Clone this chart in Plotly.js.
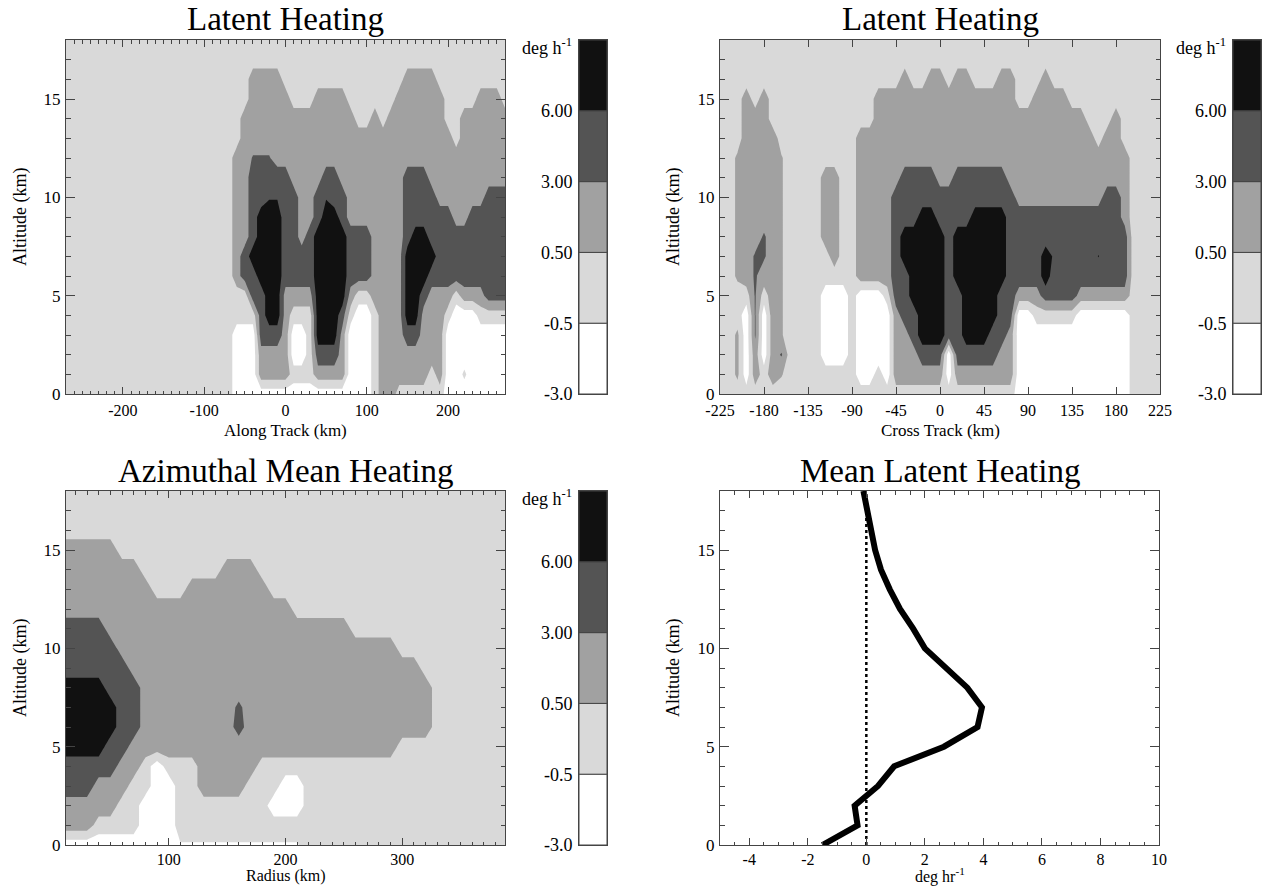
<!DOCTYPE html>
<html>
<head>
<meta charset="utf-8">
<script src="https://cdn.plot.ly/plotly-3.0.1.min.js"></script>
<style>html,body{margin:0;padding:0;background:#fff;}#chart{width:1263px;height:886px;}</style>
</head>
<body>
<div id="chart"></div>
<script>
// ================= DATA =================
// contour levels (deg h^-1) and their colours
const levelValues = [-3.0, -0.5, 0.5, 3.0, 6.0];
const levelLabels = ['-3.0', '-0.5', '0.50', '3.00', '6.00'];
const bandColors  = ['#ffffff', '#d9d9d9', '#a1a1a1', '#545454', '#111111'];

const altitudeKm   = [0,1,2,3,4,5,6,7,8,9,10,11,12,13,14,15,16,17,18];
const altTicks     = [0,5,10,15];
const altTickText  = ['0','5','10','15'];

// ---- Panel 1 : along track (one altitude profile per x position) ----
const alongTrackKm = [-270,-260,-250,-240,-230,-220,-210,-200,-190,-180,-170,-160,-150,-140,-130,-120,-110,-100,-90,-80,-70,
  -60,-50,-40,-30,-20,-10,0,10,20,30,40,50,60,70,80,90,100,110,120,130,140,150,160,170,180,190,200,210,220,230,240,250,260,270];
const alongTicks    = [-200,-100,0,100,200];
const alongTickText = ['-200','-100','0','100','200'];
const alongTrackHeating = [
  [0,0,0,0,0, 0,0,0,0,0, 0,0,0,0,0, 0,0,0,0], // -270
  [0,0,0,0,0, 0,0,0,0,0, 0,0,0,0,0, 0,0,0,0], // -260
  [0,0,0,0,0, 0,0,0,0,0, 0,0,0,0,0, 0,0,0,0], // -250
  [0,0,0,0,0, 0,0,0,0,0, 0,0,0,0,0, 0,0,0,0], // -240
  [0,0,0,0,0, 0,0,0,0,0, 0,0,0,0,0, 0,0,0,0], // -230
  [0,0,0,0,0, 0,0,0,0,0, 0,0,0,0,0, 0,0,0,0], // -220
  [0,0,0,0,0, 0,0,0,0,0, 0,0,0,0,0, 0,0,0,0], // -210
  [0,0,0,0,0, 0,0,0,0,0, 0,0,0,0,0, 0,0,0,0], // -200
  [0,0,0,0,0, 0,0,0,0,0, 0,0,0,0,0, 0,0,0,0], // -190
  [0,0,0,0,0, 0,0,0,0,0, 0,0,0,0,0, 0,0,0,0], // -180
  [0,0,0,0,0, 0,0,0,0,0, 0,0,0,0,0, 0,0,0,0], // -170
  [0,0,0,0,0, 0,0,0,0,0, 0,0,0,0,0, 0,0,0,0], // -160
  [0,0,0,0,0, 0,0,0,0,0, 0,0,0,0,0, 0,0,0,0], // -150
  [0,0,0,0,0, 0,0,0,0,0, 0,0,0,0,0, 0,0,0,0], // -140
  [0,0,0,0,0, 0,0,0,0,0, 0,0,0,0,0, 0,0,0,0], // -130
  [0,0,0,0,0, 0,0,0,0,0, 0,0,0,0,0, 0,0,0,0], // -120
  [0,0,0,0,0, 0,0,0,0,0, 0,0,0,0,0, 0,0,0,0], // -110
  [0,0,0,0,0, 0,0,0,0,0, 0,0,0,0,0, 0,0,0,0], // -100
  [0,0,0,0,0, 0,0,0,0,0, 0,0,0,0,0, 0,0,0,0], // -90
  [0,0,0,0,0, 0,0,0,0,0, 0,0,0,0,0, 0,0,0,0], // -80
  [0,0,0,0,0, 0,0,0,0,0, 0,0,0,0,0, 0,0,0,0], // -70
  [-2,-2,-2,-2,0, 0,2,2,2,2, 2,2,2,0,0, 0,0,0,0], // -60
  [-2,-2,-2,-2,0, 0,4.5,4.5,2,2, 2,2,2,2,2, 0,0,0,0], // -50
  [-2,-2,-2,-2,0, 4.5,4.5,9,4.5,4.5, 4.5,4.5,3.2,2,2, 2,2,0,0], // -40
  [-2,2,2,4.5,4.5, 4.5,9,9,9,9, 4.5,4.5,3.2,2,2, 2,2,0,0], // -30
  [-2,2,2,4.5,9, 9,9,9,9,9, 5.8,4.5,3.2,2,2, 2,2,0,0], // -20
  [-2,2,2,4.5,9, 9,9,9,9,9, 5.8,4.5,2,2,2, 2,2,0,0], // -10
  [-2,2,2,2,2, 2,4.5,4.5,4.5,4.5, 4.5,4.5,2,2,2, 2,0,0,0], // 0
  [-2,0,-2,-2,0, 2,4.5,4.5,4.5,4.5, 4.5,2,2,2,2, 0,0,0,0], // 10
  [-2,0,-2,-2,0, 2,4.5,4.5,2,2, 2,2,2,2,2, 0,0,0,0], // 20
  [-2,0,0,0,0, 2,4.5,4.5,4.5,2, 2,2,2,2,2, 0,0,0,0], // 30
  [-2,2,4.5,9,9, 9,9,9,9,4.5, 4.5,2,2,2,2, 2,0,0,0], // 40
  [-2,2,4.5,9,9, 9,9,9,9,9, 5.8,4.5,2,2,2, 2,0,0,0], // 50
  [-2,2,4.5,9,9, 9,9,9,9,9, 4.5,4.5,2,2,2, 2,0,0,0], // 60
  [-2,2,2,2,4.5, 9,9,9,9,4.5, 4.5,2,2,2,2, 2,0,0,0], // 70
  [-2,-2,-2,-2,0, 2,4.5,4.5,4.5,2, 2,2,2,2,2, 0,0,0,0], // 80
  [-2,-2,-2,-2,-2, 0,4.5,4.5,4.5,2, 2,2,2,2,0, 0,0,0,0], // 90
  [-2,-2,-2,-2,-2, 0,4.5,4.5,4.5,2, 2,2,2,2,0, 0,0,0,0], // 100
  [0,0,0,0,0, 2,2,2,2,2, 2,2,2,2,2, 0,0,0,0], // 110
  [2,2,2,2,2, 2,2,2,2,2, 2,2,2,2,0, 0,0,0,0], // 120
  [2,2,2,2,2, 2,2,2,2,2, 2,2,2,2,2, 0,0,0,0], // 130
  [0,2,2,2,2, 2,2,2,2,2, 2,2,2,2,2, 2,0,0,0], // 140
  [0,2,2,4.5,9, 9,9,9,4.5,4.5, 4.5,4.5,2,2,2, 2,2,0,0], // 150
  [0,2,2,4.5,9, 9,9,9,9,4.5, 4.5,4.5,2,2,2, 2,2,0,0], // 160
  [0,2,2,2,2, 4.5,9,9,9,4.5, 4.5,4.5,2,2,2, 2,2,0,0], // 170
  [0,0,2,2,2, 2,4.5,9,4.5,4.5, 4.5,2,2,2,2, 2,2,0,0], // 180
  [0,2,2,2,2, 2,4.5,4.5,4.5,4.5, 2,2,2,2,2, 2,0,0,0], // 190
  [-2,-2,-2,-2,0, 2,4.5,4.5,4.5,4.5, 2,2,2,2,0, 0,0,0,0], // 200
  [-2,-2,-2,-2,-2, 0,4.5,4.5,4.5,2, 2,2,2,0,0, 0,0,0,0], // 210
  [-2,-0.3,-2,-2,-2, 2,4.5,4.5,4.5,2, 2,2,2,2,2, 0,0,0,0], // 220
  [-2,-2,-2,-2,-2, 2,4.5,4.5,4.5,4.5, 2,2,2,2,2, 0,0,0,0], // 230
  [-2,-2,-2,-2,0, 2,4.5,4.5,4.5,4.5, 2,2,2,2,2, 2,0,0,0], // 240
  [-2,-2,-2,-2,0, 4.5,4.5,4.5,4.5,4.5, 4.5,2,2,2,2, 2,0,0,0], // 250
  [-2,-2,-2,-2,0, 4.5,4.5,4.5,4.5,4.5, 4.5,2,2,2,2, 2,0,0,0], // 260
  [-2,-2,-2,-2,0, 4.5,4.5,4.5,4.5,4.5, 4.5,2,2,2,2, 0,0,0,0]  // 270
];

// ---- Panel 2 : cross track ----
const crossTrackKm = [-225,-216,-207,-198,-189,-180,-171,-162,-153,-144,-135,-126,-117,-108,-99,-90,-81,-72,-63,-54,
  -45,-36,-27,-18,-9,0,9,18,27,36,45,54,63,72,81,90,99,108,117,126,135,144,153,162,171,180,189,198,207,216,225];
const crossTicks    = [-225,-180,-135,-90,-45,0,45,90,135,180,225];
const crossTickText = ['-225','-180','-135','-90','-45','0','45','90','135','180','225'];
const crossTrackHeating = [
  [0,0,0,0,0, 0,0,0,0,0, 0,0,0,0,0, 0,0,0,0], // -225
  [0,0,0,0,0, 0,0,0,0,0, 0,0,0,0,0, 0,0,0,0], // -216
  [0,1,1,1,0, 0,1,1,1,1, 1,1,1,0,0, 0,0,0,0], // -207
  [0,-2,-2,-2,-2, 0,2,2,2,2, 2,2,2,2,2, 2,0,0,0], // -198
  [0,2,2,3.3,3.3, 3.3,3.3,3.3,2,2, 2,2,2,2,2, 0,0,0,0], // -189
  [0,0,-2,-2,-2, 0,2,3.3,3.3,2, 2,2,2,2,2, 2,0,0,0], // -180
  [0,2,2,2,2, 2,2,2,2,2, 2,2,2,2,0, 0,0,0,0], // -171
  [0,0.7,3.3,0.7,0.7, 0.7,0.7,0.7,0.7,0.7, 0.7,0.7,0.7,0,0, 0,0,0,0], // -162
  [0,0,0,0,0, 0,0,0,0,0, 0,0,0,0,0, 0,0,0,0], // -153
  [0,0,0,0,0, 0,0,0,0,0, 0,0,0,0,0, 0,0,0,0], // -144
  [0,0,0,0,0, 0,0,0,0,0, 0,0,0,0,0, 0,0,0,0], // -135
  [0,0,0,0,0, 0,0,0,0,0, 0,0,0,0,0, 0,0,0,0], // -126
  [0,0,-2,-2,-2, -2,0,0,2,2, 2,2,0,0,0, 0,0,0,0], // -117
  [0,0,-2,-2,-2, -2,0,2,2,2, 2,2,0,0,0, 0,0,0,0], // -108
  [0,0,-2,-2,-2, -2,0,0,0,0, 0,0,0,0,0, 0,0,0,0], // -99
  [0,0,0,0,0, 0,0,0,0,0, 0,0,0,0,0, 0,0,0,0], // -90
  [0,-2,-2,-2,-2, -2,2,2,2,2, 2,2,2,2,0, 0,0,0,0], // -81
  [0,-2,-2,-2,-2, -2,2,2,2,2, 2,2,2,2,0, 0,0,0,0], // -72
  [0,0,-2,-2,-2, -2,2,2,2,2, 2,2,2,2,2, 2,0,0,0], // -63
  [0,-2,-2,-2,-2, 0,2,2,2,2, 2,2,2,2,2, 2,0,0,0], // -54
  [0,2,2,2,2, 4.5,4.5,4.5,4.5,4.5, 4.5,2,2,2,2, 2,0,0,0], // -45
  [0,2,2,2,4.5, 4.5,4.5,9,9,4.5, 4.5,4.5,2,2,2, 2,2,0,0], // -36
  [0,2,2,4.5,4.5, 9,9,9,9,4.5, 4.5,4.5,2,2,2, 2,0,0,0], // -27
  [0,2,4.5,9,9, 9,9,9,9,9, 4.5,4.5,2,2,2, 2,0,0,0], // -18
  [0,2,4.5,9,9, 9,9,9,9,9, 4.5,4.5,2,2,2, 2,2,0,0], // -9
  [0,2,4.5,9,9, 9,9,9,9,4.5, 4.5,2,2,2,2, 2,2,0,0], // 0
  [0,-2,-2,4.5,4.5, 4.5,4.5,4.5,4.5,4.5, 4.5,2,2,2,2, 2,0,0,0], // 9
  [0,2,4.5,4.5,4.5, 4.5,9,9,9,4.5, 4.5,4.5,2,2,2, 2,2,0,0], // 18
  [0,2,4.5,9,9, 9,9,9,9,4.5, 4.5,4.5,2,2,2, 2,2,0,0], // 27
  [0,2,4.5,9,9, 9,9,9,9,9, 4.5,4.5,2,2,2, 2,0,0,0], // 36
  [0,2,4.5,9,9, 9,9,9,9,9, 4.5,4.5,2,2,2, 2,0,0,0], // 45
  [0,2,4.5,4.5,9, 9,9,9,9,9, 4.5,4.5,2,2,2, 2,0,0,0], // 54
  [0,2,2,4.5,4.5, 4.5,9,9,9,9, 4.5,4.5,2,2,2, 2,2,0,0], // 63
  [0,2,2,2,4.5, 4.5,4.5,4.5,4.5,4.5, 4.5,2,2,2,2, 2,2,0,0], // 72
  [-2,-2,-2,-2,-2, 2,4.5,4.5,4.5,4.5, 2,2,2,2,2, 0,0,0,0], // 81
  [-2,-2,-2,-2,-2, 2,4.5,4.5,4.5,4.5, 2,2,2,2,2, 0,0,0,0], // 90
  [-2,-2,-2,-2,0, 2,4.5,4.5,4.5,4.5, 2,2,2,2,2, 2,0,0,0], // 99
  [-2,-2,-2,-2,0, 4.5,9,9,4.5,4.5, 2,2,2,2,2, 2,2,0,0], // 108
  [-2,-2,-2,-2,0, 4.5,4.5,5.5,4.5,4.5, 2,2,2,2,2, 2,0,0,0], // 117
  [-2,-2,-2,-2,0, 4.5,4.5,4.5,4.5,4.5, 2,2,2,2,2, 2,0,0,0], // 126
  [-2,-2,-2,-2,0, 4.5,4.5,4.5,4.5,4.5, 2,2,2,2,2, 0,0,0,0], // 135
  [-2,-2,-2,-2,-2, 2,4.5,4.5,4.5,4.5, 2,2,2,2,2, 0,0,0,0], // 144
  [-2,-2,-2,-2,-2, 2,4.5,4.5,4.5,4.5, 2,2,2,2,0, 0,0,0,0], // 153
  [-2,-2,-2,-2,-2, 2,4.5,6.2,4.5,4.5, 2,2,2,0,0, 0,0,0,0], // 162
  [-2,-2,-2,-2,-2, 2,4.5,4.5,4.5,4.5, 4.5,2,2,2,0, 0,0,0,0], // 171
  [-2,-2,-2,-2,-2, 2,4.5,4.5,4.5,4.5, 4.5,2,2,2,2, 0,0,0,0], // 180
  [-2,-2,-2,-2,-2, 2,4.5,4.5,4.5,2, 2,2,2,0,0, 0,0,0,0], // 189
  [0,0,0,0,0, 0,0,0,0,0, 0,0,0,0,0, 0,0,0,0], // 198
  [0,0,0,0,0, 0,0,0,0,0, 0,0,0,0,0, 0,0,0,0], // 207
  [0,0,0,0,0, 0,0,0,0,0, 0,0,0,0,0, 0,0,0,0], // 216
  [0,0,0,0,0, 0,0,0,0,0, 0,0,0,0,0, 0,0,0,0]  // 225
];

// ---- Panel 3 : azimuthal mean ----
const radiusKm = [10,20,30,40,50,60,70,80,90,100,110,120,130,140,150,160,170,180,190,200,210,220,230,240,250,
  260,270,280,290,300,310,320,330,340,350,360,370,380,390];
const radiusTicks    = [100,200,300];
const radiusTickText = ['100','200','300'];
const azimuthalHeating = [
  [-2,2,2,4.5,4.5, 9,9,9,9,4.5, 4.5,4.5,2,2,2, 2,0,0,0], // 10
  [-2,2,2,4.5,4.5, 9,9,9,9,4.5, 4.5,4.5,2,2,2, 2,0,0,0], // 20
  [-2,2,2,4.5,4.5, 9,9,9,9,4.5, 4.5,4.5,2,2,2, 2,0,0,0], // 30
  [-2,0,2,2,4.5, 9,9,9,9,4.5, 4.5,4.5,2,2,2, 2,0,0,0], // 40
  [-2,0,2,2,4.5, 4.5,9,9,4.5,4.5, 4.5,2,2,2,2, 2,0,0,0], // 50
  [-2,0,0,2,2, 4.5,4.5,4.5,4.5,4.5, 2,2,2,2,2, 0,0,0,0], // 60
  [-2,0,0,0,2, 2,4.5,4.5,4.5,2, 2,2,2,2,2, 0,0,0,0], // 70
  [-2,-2,-2,0,0, 2,2,2,2,2, 2,2,2,2,0, 0,0,0,0], // 80
  [-2,-2,-2,-2,-2, 2,2,2,2,2, 2,2,2,0,0, 0,0,0,0], // 90
  [-2,-2,-2,-2,0, 2,2,2,2,2, 2,2,2,0,0, 0,0,0,0], // 100
  [-0.7,0,0,0,0, 2,2,2,2,2, 2,2,2,0,0, 0,0,0,0], // 110
  [-0.7,0,0,0,0, 2,2,2,2,2, 2,2,2,2,0, 0,0,0,0], // 120
  [-0.7,0,0,2,2, 2,2,2,2,2, 2,2,2,2,0, 0,0,0,0], // 130
  [-0.7,0,0,2,2, 2,2,2,2,2, 2,2,2,2,0, 0,0,0,0], // 140
  [-0.7,0,0,2,2, 2,2,2,2,2, 2,2,2,2,2, 0,0,0,0], // 150
  [-0.7,0,0,2,2, 2,4,3.5,2,2, 2,2,2,2,2, 0,0,0,0], // 160
  [-0.7,0,0,0,2, 2,2,2,2,2, 2,2,2,2,2, 0,0,0,0], // 170
  [-0.7,0,0,0,0, 2,2,2,2,2, 2,2,2,2,0, 0,0,0,0], // 180
  [-0.7,0,-2,0,0, 2,2,2,2,2, 2,2,2,0,0, 0,0,0,0], // 190
  [-0.7,0,-2,-2,0, 2,2,2,2,2, 2,2,2,0,0, 0,0,0,0], // 200
  [-0.7,0,-2,-2,0, 2,2,2,2,2, 2,2,0,0,0, 0,0,0,0], // 210
  [0,0,0,0,0, 2,2,2,2,2, 2,2,0,0,0, 0,0,0,0], // 220
  [0,0,0,0,0, 2,2,2,2,2, 2,2,0,0,0, 0,0,0,0], // 230
  [0,0,0,0,0, 2,2,2,2,2, 2,2,0,0,0, 0,0,0,0], // 240
  [0,0,0,0,0, 2,2,2,2,2, 2,2,0,0,0, 0,0,0,0], // 250
  [0,0,0,0,0, 2,2,2,2,2, 2,0,0,0,0, 0,0,0,0], // 260
  [0,0,0,0,0, 2,2,2,2,2, 2,0,0,0,0, 0,0,0,0], // 270
  [0,0,0,0,0, 2,2,2,2,2, 2,0,0,0,0, 0,0,0,0], // 280
  [0,0,0,0,0, 2,2,2,2,2, 2,0,0,0,0, 0,0,0,0], // 290
  [0,0,0,0,0, 0,2,2,2,2, 0,0,0,0,0, 0,0,0,0], // 300
  [0,0,0,0,0, 0,2,2,2,2, 0,0,0,0,0, 0,0,0,0], // 310
  [0,0,0,0,0, 0,2,2,2,0, 0,0,0,0,0, 0,0,0,0], // 320
  [0,0,0,0,0, 0,0,0,0,0, 0,0,0,0,0, 0,0,0,0], // 330
  [0,0,0,0,0, 0,0,0,0,0, 0,0,0,0,0, 0,0,0,0], // 340
  [0,0,0,0,0, 0,0,0,0,0, 0,0,0,0,0, 0,0,0,0], // 350
  [0,0,0,0,0, 0,0,0,0,0, 0,0,0,0,0, 0,0,0,0], // 360
  [0,0,0,0,0, 0,0,0,0,0, 0,0,0,0,0, 0,0,0,0], // 370
  [0,0,0,0,0, 0,0,0,0,0, 0,0,0,0,0, 0,0,0,0], // 380
  [0,0,0,0,0, 0,0,0,0,0, 0,0,0,0,0, 0,0,0,0]  // 390
];

// ---- Panel 4 : mean latent heating profile ----
const meanHeating = [-1.5,-0.3,-0.4,0.4,0.95,2.65,3.8,3.95,3.45,2.75,2.0,1.6,1.15,0.8,0.5,0.3,0.15,0.0,-0.1];
const heatTicks    = [-4,-2,0,2,4,6,8,10];
const heatTickText = ['-4','-2','0','2','4','6','8','10'];
const zeroReference = 0;

// ================= HELPERS =================
const W = 1263, H = 886;
const FONT = 'Liberation Serif';
const AX = '#444';
const fx = p => p / W;
const fy = p => 1 - p / H;
const tf = (s) => ({ family: FONT, size: s, color: '#000' });

const bandEdges = levelValues.concat([12]);
function toBand(v) {
  if (v <= bandEdges[0]) return (v - bandEdges[0]) / (bandEdges[1] - bandEdges[0]);
  for (let i = 0; i < bandEdges.length - 1; i++) {
    if (v <= bandEdges[i + 1]) return i + (v - bandEdges[i]) / (bandEdges[i + 1] - bandEdges[i]);
  }
  return bandEdges.length - 1;
}
const nb = bandColors.length;
const bandScale = [];
bandColors.forEach((c, i) => { bandScale.push([i / nb, c]); bandScale.push([(i + 1) / nb, c]); });

function contourTrace(xs, cols, xa, ya) {
  const z = altitudeKm.map((_, j) => cols.map(c => toBand(c[j])));
  return {
    type: 'contour', x: xs, y: altitudeKm, z: z, xaxis: xa, yaxis: ya,
    autocontour: false,
    contours: { start: 1, end: nb - 1, size: 1, coloring: 'fill', showlines: false },
    colorscale: bandScale, showscale: false,
    line: { width: 0, smoothing: 0 }, hoverinfo: 'skip'
  };
}
function colorbarTrace(xa, ya) {
  return {
    type: 'bar', x: levelValues.map(() => 0), y: levelValues.map(() => 1),
    base: levelValues.map((_, i) => i), width: 1,
    marker: { color: bandColors, line: { color: AX, width: 1 } },
    xaxis: xa, yaxis: ya, hoverinfo: 'skip', showlegend: false
  };
}
function xAxis(x0, x1, anchor, range, tv, tt, minor, standoff) {
  const a = {
    domain: [fx(x0), fx(x1)], anchor: anchor, range: range,
    tickmode: 'array', tickvals: tv, ticktext: tt,
    ticks: 'inside', ticklen: 7, tickwidth: 1, tickcolor: AX,
    showline: true, linecolor: AX, linewidth: 1, mirror: 'ticks',
    showgrid: false, zeroline: false, tickfont: tf(16), ticklabelstandoff: standoff, fixedrange: true
  };
  if (minor) a.minor = { tickmode: 'linear', tick0: 0, dtick: minor, ticks: 'inside', ticklen: 3.5, tickwidth: 1, tickcolor: AX, showgrid: false };
  return a;
}
function yAxis(y0, y1, anchor) {
  return {
    domain: [fy(y1), fy(y0)], anchor: anchor, range: [0, 18],
    tickmode: 'array', tickvals: altTicks, ticktext: altTickText,
    ticks: 'inside', ticklen: 9, tickwidth: 1, tickcolor: AX,
    showline: true, linecolor: AX, linewidth: 1, mirror: 'ticks',
    showgrid: false, zeroline: false, tickfont: tf(17), ticklabelstandoff: 1, fixedrange: true,
    minor: { tickmode: 'linear', tick0: 0, dtick: 1, ticks: 'inside', ticklen: 4.5, tickwidth: 1, tickcolor: AX, showgrid: false }
  };
}
function cbX(x0, x1, anchor) {
  return { domain: [fx(x0), fx(x1)], anchor: anchor, range: [-0.5, 0.5], showticklabels: false, ticks: '',
    showgrid: false, zeroline: false, showline: true, mirror: true, linecolor: AX, fixedrange: true };
}
function cbY(y0, y1, anchor) {
  return { domain: [fy(y1), fy(y0)], anchor: anchor, range: [0, nb],
    tickmode: 'array', tickvals: levelValues.map((_, i) => i), ticktext: levelLabels, ticks: '',
    showgrid: false, zeroline: false, showline: true, mirror: true, linecolor: AX,
    tickfont: tf(18), ticklabelstandoff: 2, fixedrange: true };
}
function ann(text, x, y, size, extra) {
  return Object.assign({ text: text, x: fx(x), y: fy(y), xref: 'paper', yref: 'paper',
    showarrow: false, xanchor: 'center', yanchor: 'middle',
    font: { family: FONT, size: size, color: '#000' } }, extra || {});
}

// ================= FIGURE =================
const traces = [
  contourTrace(alongTrackKm, alongTrackHeating, 'x', 'y'),
  contourTrace(crossTrackKm, crossTrackHeating, 'x2', 'y2'),
  contourTrace(radiusKm, azimuthalHeating, 'x3', 'y3'),
  { type: 'scatter', mode: 'lines', x: [zeroReference, zeroReference], y: [altitudeKm[0], altitudeKm[altitudeKm.length - 1]],
    line: { color: '#000', width: 2.5, dash: 'dot' }, xaxis: 'x4', yaxis: 'y4', hoverinfo: 'skip' },
  { type: 'scatter', mode: 'lines', x: meanHeating, y: altitudeKm,
    line: { color: '#000', width: 6 }, xaxis: 'x4', yaxis: 'y4', hoverinfo: 'skip' },
  colorbarTrace('x5', 'y5'),
  colorbarTrace('x6', 'y6'),
  colorbarTrace('x7', 'y7')
];

const layout = {
  width: W, height: H, margin: { l: 0, r: 0, t: 0, b: 0 },
  font: { family: FONT, size: 17, color: '#000' },
  paper_bgcolor: '#fff', plot_bgcolor: '#fff', showlegend: false, barmode: 'overlay',
  xaxis:  xAxis(66, 505, 'y', [-270, 270], alongTicks, alongTickText, 10, 2),
  yaxis:  yAxis(40, 394, 'x'),
  xaxis2: xAxis(720, 1160, 'y2', [-225, 225], crossTicks, crossTickText, null, 2),
  yaxis2: yAxis(40, 394, 'x2'),
  xaxis3: xAxis(66, 505, 'y3', [12, 388], radiusTicks, radiusTickText, 10, 0),
  yaxis3: yAxis(491, 845, 'x3'),
  xaxis4: xAxis(720, 1159, 'y4', [-5, 10], heatTicks, heatTickText, 0.5, 0),
  yaxis4: yAxis(491, 845, 'x4'),
  xaxis5: cbX(579, 607, 'y5'), yaxis5: cbY(40, 394, 'x5'),
  xaxis6: cbX(1233, 1261, 'y6'), yaxis6: cbY(40, 394, 'x6'),
  xaxis7: cbX(579, 607, 'y7'), yaxis7: cbY(491, 845, 'x7'),
  annotations: [
    ann('Latent Heating', 285.5, 19, 33),
    ann('Latent Heating', 940, 19, 33),
    ann('Azimuthal Mean Heating', 285.5, 471, 33),
    ann('Mean Latent Heating', 940, 471, 33),
    ann('Along Track (km)', 285.5, 430, 17),
    ann('Cross Track (km)', 940, 430, 17),
    ann('Radius (km)', 285.5, 886, 16, { yanchor: 'bottom', borderpad: 0 }),
    ann('deg hr<sup>-1</sup>', 940, 887, 16, { yanchor: 'bottom', borderpad: 0 }),
    ann('Altitude (km)', 20, 217, 18, { textangle: -90 }),
    ann('Altitude (km)', 673, 217, 18, { textangle: -90 }),
    ann('Altitude (km)', 20, 668, 18, { textangle: -90 }),
    ann('Altitude (km)', 673, 668, 18, { textangle: -90 }),
    ann('deg h<sup>-1</sup>', 574, 46, 18, { xanchor: 'right' }),
    ann('deg h<sup>-1</sup>', 1228, 46, 18, { xanchor: 'right' }),
    ann('deg h<sup>-1</sup>', 574, 497, 18, { xanchor: 'right' })
  ]
};

Plotly.newPlot('chart', traces, layout, { staticPlot: true, displayModeBar: false });
</script>
</body>
</html>
